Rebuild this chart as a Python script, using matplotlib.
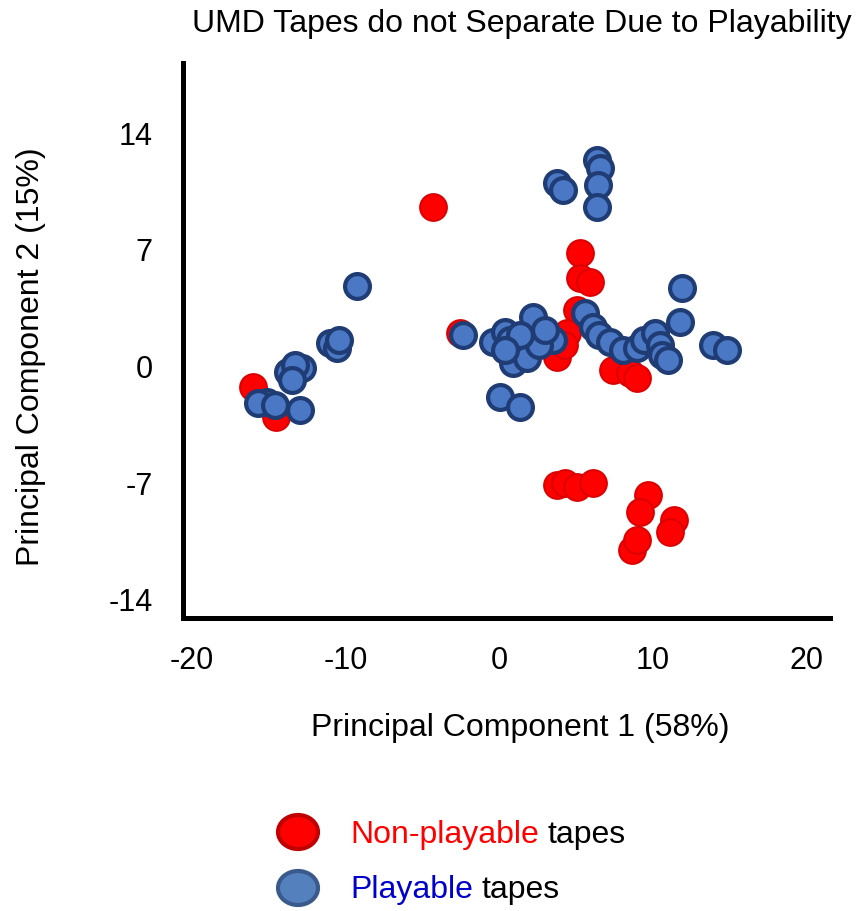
import matplotlib
matplotlib.use("Agg")
import matplotlib.pyplot as plt
from matplotlib.patches import Ellipse

plt.rcParams['font.family'] = ['Liberation Sans', 'DejaVu Sans']
plt.rcParams['axes.unicode_minus'] = False

# non-playable tapes (PC1, PC2)
red_x = [-4.32, 5.24, 5.24, 5.89, 5.05, 4.39, 3.74, 4.2, -2.56, 7.38, 8.49, 8.94,
         -16.0, -14.5, 3.74, 4.26, 5.05, 6.09, 9.66, 9.14, 11.35, 11.09, 8.62, 8.94]
red_y = [9.57, 6.81, 5.31, 5.07, 3.39, 2.0, 0.56, 1.3, 2.0, -0.22, -0.4, -0.7,
         -1.24, -3.03, -7.11, -7.0, -7.24, -7.0, -7.72, -8.74, -9.22, -9.94, -11.02, -10.42]

# playable tapes (PC1, PC2)
blue_x = [3.75, 4.14, 6.34, 6.53, 6.4, 6.34,
          -9.27,
          -11.0, -10.57, -10.4, -13.74, -12.84, -13.3, -15.1, -15.7, -14.6, -12.96, -13.5,
          -2.37, -0.42, 0.36, 1.99, 2.18, 1.15, 0.88, 1.79, 3.48, 0.04, 1.34, 0.7, 2.6,
          1.34, 2.96, 0.36,
          5.56, 6.09, 6.5, 7.19, 8.03, 8.94, 9.45, 10.11, 10.44, 10.6, 10.96, 11.74, 11.87,
          13.9, 14.79]
blue_y = [11.0, 10.6, 12.4, 11.9, 10.9, 9.57,
          4.83,
          1.4, 1.1, 1.58, -0.34, -0.1, 0.08, -2.14, -2.2, -2.32, -2.62, -0.8,
          1.88, 1.46, 2.06, 2.18, 2.97, 0.98, 0.2, 0.5, 1.58, -1.84, -2.44, 1.6, 1.3,
          1.88, 2.18, 0.98,
          3.2, 2.37, 1.9, 1.46, 0.98, 1.1, 1.58, 2.0, 1.28, 0.68, 0.38, 2.67, 4.71,
          1.28, 0.98]

xticks = [-20, -10, 0, 10, 20]
yticks = [-14, -7, 0, 7, 14]

fig = plt.figure(figsize=(8.6, 9.11), dpi=100)
ax = fig.add_axes([0.2128, 0.3216, 0.752, 0.6092])

ax.scatter(red_x, red_y, s=370, c='#ff0000', edgecolors='#dd0000', linewidths=1.5, zorder=2)
ax.scatter(blue_x, blue_y, s=320, c='#4a78c4', edgecolors='#1f3c74', linewidths=3, zorder=3)

ax.set_xlim(-20.57, 21.5)
ax.set_ylim(-15.1, 18.2)
ax.set_xticks(xticks)
ax.set_yticks(yticks)
ax.tick_params(length=0, labelsize=22)
ax.tick_params(axis='y', pad=22)
ax.tick_params(axis='x', pad=20)
for s in ['top', 'right']:
    ax.spines[s].set_visible(False)
for s in ['left', 'bottom']:
    ax.spines[s].set_linewidth(3.6)
    ax.spines[s].set_color('black')

fig.text(0.607, 0.974, 'UMD Tapes do not Separate Due to Playability', fontsize=23,
         ha='center', va='center')
fig.text(0.605, 0.201, 'Principal Component 1 (58%)', fontsize=23, ha='center', va='center')
fig.text(0.036, 0.609, 'Principal Component 2 (15%)', fontsize=23, ha='center', va='center',
         rotation=90)

# legend
fig.add_artist(Ellipse((298 / 860, 1 - 832 / 911), 40 / 860, 34 / 911, transform=fig.transFigure,
                       facecolor='#ff0000', edgecolor='#c00000', linewidth=3))
fig.add_artist(Ellipse((298 / 860, 1 - 888 / 911), 40 / 860, 34 / 911, transform=fig.transFigure,
                       facecolor='#5580be', edgecolor='#3a5a8c', linewidth=3))

fig.canvas.draw()
r = fig.canvas.get_renderer()
t1 = fig.text(350 / 860, 1 - 835 / 911, 'Non-playable', color='#ff0000', fontsize=23, va='center')
t2 = fig.text(350 / 860, 1 - 890 / 911, 'Playable', color='#0000cc', fontsize=23, va='center')
for t, y in [(t1, 835), (t2, 890)]:
    bb = t.get_window_extent(renderer=r)
    fig.text(bb.x1 / fig.bbox.width + 9 / 860, 1 - y / 911, 'tapes', color='black',
             fontsize=23, va='center')

fig.savefig('out.png', dpi=100)
